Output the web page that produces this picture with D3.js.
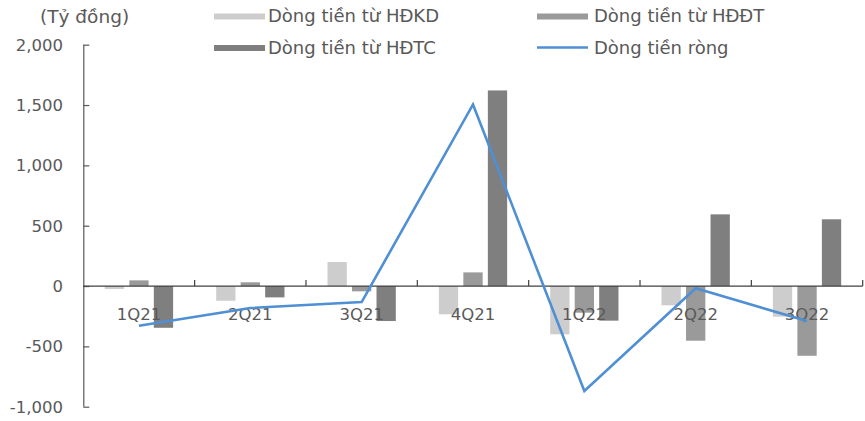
<!DOCTYPE html>
<html>
<head>
<meta charset="utf-8">
<script src="https://cdn.jsdelivr.net/npm/d3@7"></script>
<style>
  html, body { margin: 0; padding: 0; background: #fff; }
  svg { display: block; }
  text { font-family: "DejaVu Sans", sans-serif; fill: #595959; }
</style>
</head>
<body>
<svg id="chart" width="865" height="421"></svg>
<script>
const categories = ["1Q21", "2Q21", "3Q21", "4Q21", "1Q22", "2Q22", "3Q22"];
const hdkd = [-25, -122, 199, -234, -400, -160, -254];
const hddt = [47, 31, -44, 113, -221, -453, -578];
const hdtc = [-346, -94, -290, 1621, -287, 594, 553];
const netFlow = [-329, -182, -133, 1505, -870, -19, -290];
const yTicks = [-1000, -500, 0, 500, 1000, 1500, 2000];
const seriesNames = ["Dòng tiền từ HĐKD", "Dòng tiền từ HĐĐT", "Dòng tiền từ HĐTC", "Dòng tiền ròng"];
const unitLabel = "(Tỷ đồng)";

const colors = ["#cdcdcd", "#9a9a9a", "#7f7f7f"];
const lineColor = "#4f8fd3";
const axisColor = "#595959";

const svg = d3.select("#chart");
svg.append("rect").attr("width", 865).attr("height", 421).attr("fill", "#fff");

const plotLeft = 83.3, plotRight = 862.7, plotTop = 44.7, plotBottom = 406.7;
const x = d3.scaleBand().domain(categories).range([plotLeft, plotRight]).padding(0);
const y = d3.scaleLinear().domain([-1000, 2000]).range([plotBottom, plotTop]);

const barW = 19.3, step = 24.5;
const barSeries = [hdkd, hddt, hdtc];
const offsets = [-step, 0, step];

barSeries.forEach((vals, si) => {
  svg.append("g").selectAll("rect")
    .data(vals)
    .join("rect")
    .attr("x", (d, i) => x(categories[i]) + x.bandwidth() / 2 + offsets[si] - barW / 2)
    .attr("y", d => y(Math.max(0, d)))
    .attr("width", barW)
    .attr("height", d => Math.abs(y(d) - y(0)))
    .attr("fill", colors[si]);
});

// Y axis
const yAxis = d3.axisRight(y).tickValues(yTicks).tickSize(6).tickFormat("");
const gy = svg.append("g").attr("transform", `translate(${plotLeft},0)`).call(yAxis);
gy.select(".domain").attr("stroke", axisColor).attr("stroke-width", 1.2).attr("d", `M0.5,${plotTop}V${plotBottom}`);
gy.selectAll(".tick line").attr("stroke", axisColor).attr("stroke-width", 1.2);

const fmt = d => d3.format(",")(d).replace("\u2212", "-");
svg.append("g").selectAll("text")
  .data(yTicks)
  .join("text")
  .attr("x", 63)
  .attr("y", d => y(d))
  .attr("dy", "0.36em")
  .attr("text-anchor", "end")
  .attr("font-size", 16.5)
  .text(fmt);

// X axis at zero
const xEdges = categories.map(c => x(c)).concat([plotRight]);
svg.append("line")
  .attr("x1", plotLeft).attr("x2", plotRight)
  .attr("y1", y(0)).attr("y2", y(0))
  .attr("stroke", "#404040").attr("stroke-width", 1.3);
svg.append("g").selectAll("line")
  .data(xEdges.slice(1))
  .join("line")
  .attr("x1", d => d).attr("x2", d => d)
  .attr("y1", y(0)).attr("y2", y(0) - 6)
  .attr("stroke", "#404040").attr("stroke-width", 1.2);

svg.append("g").selectAll("text")
  .data(categories)
  .join("text")
  .attr("x", d => x(d) + x.bandwidth() / 2)
  .attr("y", y(0) + 34)
  .attr("text-anchor", "middle")
  .attr("font-size", 16.5)
  .text(d => d);

// Net flow line
const line = d3.line()
  .x((d, i) => x(categories[i]) + x.bandwidth() / 2)
  .y(d => y(d));
svg.append("path")
  .datum(netFlow)
  .attr("d", line)
  .attr("fill", "none")
  .attr("stroke", lineColor)
  .attr("stroke-width", 2.6)
  .attr("stroke-linejoin", "miter");

// Unit label
svg.append("text")
  .attr("x", 40).attr("y", 23)
  .attr("font-size", 18.5)
  .text(unitLabel);

// Legend
const legendItems = [
  { name: seriesNames[0], type: "bar", color: colors[0], sx: 214, tx: 268, ty: 22 },
  { name: seriesNames[1], type: "bar", color: colors[1], sx: 537, tx: 594, ty: 22 },
  { name: seriesNames[2], type: "bar", color: colors[2], sx: 214, tx: 268, ty: 53.5 },
  { name: seriesNames[3], type: "line", color: lineColor, sx: 537, tx: 594, ty: 53.5 }
];
const lg = svg.append("g");
legendItems.forEach(it => {
  if (it.type === "bar") {
    lg.append("rect").attr("x", it.sx).attr("y", it.ty - 8.5).attr("width", 51).attr("height", 6).attr("fill", it.color);
  } else {
    lg.append("line").attr("x1", it.sx).attr("x2", it.sx + 51)
      .attr("y1", it.ty - 6).attr("y2", it.ty - 6)
      .attr("stroke", it.color).attr("stroke-width", 2.6);
  }
  lg.append("text").attr("x", it.tx).attr("y", it.ty).attr("font-size", 18).text(it.name);
});
</script>
</body>
</html>
